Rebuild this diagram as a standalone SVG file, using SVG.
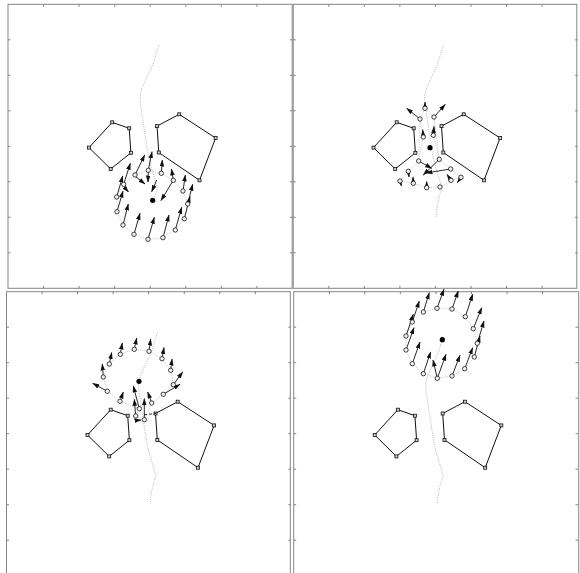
<svg xmlns="http://www.w3.org/2000/svg" xmlns:xlink="http://www.w3.org/1999/xlink" width="580" height="573" viewBox="0 0 580 573">
<style>
.frame{fill:none;stroke:#858585;stroke-width:1}
.tick{fill:none;stroke:#858585;stroke-width:1}
.obs{fill:none;stroke:#111;stroke-width:1}
.vtx{fill:#ccc;stroke:#111;stroke-width:0.8}
.trail{fill:none;stroke:#b4b4b4;stroke-width:1;stroke-dasharray:1 1.3}
.ring{fill:none;stroke:#bdbdbd;stroke-width:0.9;stroke-dasharray:1 1.3}
.arr{fill:none;stroke:#111;stroke-width:0.9;marker-end:url(#ah)}
.rob{fill:#f4f4f4;stroke:#111;stroke-width:0.8}
.ctr{fill:#000}
.dash{fill:none;stroke:#111;stroke-width:0.9;stroke-dasharray:3 2}
</style>
<defs>
<marker id="ah" markerUnits="userSpaceOnUse" markerWidth="7" markerHeight="5" refX="6.5" refY="2.3" orient="auto"><path d="M0,0 L7,2.3 L0,4.6 z" fill="#111"/></marker>
<g id="ticks">
<path class="tick" d="M35.6,0v2.5M71.1,0v2.5M106.7,0v2.5M142.2,0v2.5M177.8,0v2.5M213.3,0v2.5M248.9,0v2.5M35.6,284v-2.5M71.1,284v-2.5M106.7,284v-2.5M142.2,284v-2.5M177.8,284v-2.5M213.3,284v-2.5M248.9,284v-2.5M0,35.5h2.5M0,71h2.5M0,106.5h2.5M0,142h2.5M0,177.5h2.5M0,213h2.5M0,248.5h2.5M284.4,35.5h-2.5M284.4,71h-2.5M284.4,106.5h-2.5M284.4,142h-2.5M284.4,177.5h-2.5M284.4,213h-2.5M284.4,248.5h-2.5"/>
</g>
<g id="obstacles">
<polygon class="obs" points="81,143.3 104.2,118 121.2,124 122.9,148.5 102.7,164.7"/>
<polygon class="obs" points="149,121.8 171.2,110 207.6,133.7 191.5,176 150.8,148.2"/>
<rect class="vtx" x="79.5" y="141.8" width="3" height="3"/>
<rect class="vtx" x="102.7" y="116.5" width="3" height="3"/>
<rect class="vtx" x="119.7" y="122.5" width="3" height="3"/>
<rect class="vtx" x="121.4" y="147" width="3" height="3"/>
<rect class="vtx" x="101.2" y="163.2" width="3" height="3"/>
<rect class="vtx" x="147.5" y="120.3" width="3" height="3"/>
<rect class="vtx" x="169.7" y="108.5" width="3" height="3"/>
<rect class="vtx" x="206.1" y="132.2" width="3" height="3"/>
<rect class="vtx" x="190" y="174.5" width="3" height="3"/>
<rect class="vtx" x="149.3" y="146.7" width="3" height="3"/>
</g>
</defs>

<g id="frames">
<g id="frame1" transform="translate(8,4.3)"><rect class="frame" width="284.2" height="284"/><use xlink:href="#ticks"/></g>
<g id="frame2" transform="translate(293.2,4.3)"><rect class="frame" width="283.6" height="284"/><use xlink:href="#ticks"/></g>
<g id="frame3" transform="translate(6.5,291.7)"><rect class="frame" width="283.8" height="284"/><use xlink:href="#ticks"/></g>
<g id="frame4" transform="translate(293.7,291.7)"><rect class="frame" width="285" height="284"/><use xlink:href="#ticks"/></g>
</g>

<g id="obstacles-all">
<use xlink:href="#obstacles" transform="translate(8,4.3)"/>
<use xlink:href="#obstacles" transform="translate(292.5,4.3)"/>
<use xlink:href="#obstacles" transform="translate(6.5,291.7)"/>
<use xlink:href="#obstacles" transform="translate(293.7,291.7)"/>
</g>

<g id="trails">
<path class="trail" transform="translate(8,4.3)" d="M151,41 L148,50 145,60 141.5,68 138,75 134,84 132,92 132.5,100 133,104 135,117 137,130 139,143 141,155 143.5,164 146,172 149.5,184 147.5,190 145.5,196"/>
<path class="trail" transform="translate(292.5,4.3)" d="M151,41 L148,50 145,60 141.5,68 138,75 134,84 132,92 132.5,100 133,104 135,117 137,130 139,143 141,155 143.5,164 146,172 149.5,184 147.5,190 146,195 144.5,204 143.5,212.5"/>
<path class="trail" transform="translate(6.5,291.7)" d="M151,41 L148,50 145,60 141.5,68 138,75 134,84 132,92 132.5,100 133,104 135,117 137,130 139,143 141,155 143.5,164 146,172 149.5,184 147.5,190 146,195 144.5,204 143.5,212.5"/>
<path class="trail" transform="translate(293.7,291.7)" d="M148.6,48 L145,60 141.5,68 138,75 134,84 132,92 132.5,100 133,104 135,117 137,130 139,143 141,155 143.5,164 146,172 149.5,184 147.5,190 146,195 144.5,204 143.5,212.5"/>
</g>

<g id="formation1">
<polygon class="ring" points="135,175 148.3,170.3 161.3,173.3 173.3,180.3 183,191 187.7,204 184.3,218.7 175.3,230 163,237.7 148,239.3 134,234.3 123,225 117,211.7 116.7,197 123.7,184.3"/>
<path class="arr" d="M135,175L144.7,155"/>
<path class="arr" d="M148.3,170.3L152,151.7"/>
<path class="arr" d="M161.3,173.3L162.3,160"/>
<path class="arr" d="M173.3,180.3L171.5,169"/>
<path class="arr" d="M173.3,180.3L161,200.5"/>
<path class="arr" d="M183,191L185.3,175"/>
<path class="arr" d="M187.7,204L192.7,184.3"/>
<path class="arr" d="M184.3,218.7L190,196.5"/>
<path class="arr" d="M175.3,230L181.7,207.3"/>
<path class="arr" d="M163,237.7L169,215"/>
<path class="arr" d="M148,239.3L154.3,217.3"/>
<path class="arr" d="M134,234.3L140,213.3"/>
<path class="arr" d="M123,225L128.3,204"/>
<path class="arr" d="M117,211.7L123,191"/>
<path class="arr" d="M116.7,197L122.7,176"/>
<path class="arr" d="M123.7,184.3L130.3,163.3"/>
<path class="arr" d="M148.3,172L148,182"/>
<path class="arr" d="M136,177L145,184"/>
<path class="arr" d="M156.7,180L151.7,191.7"/>
<path class="arr" d="M124,187L128.5,192"/>
<circle class="rob" cx="135" cy="175" r="2.2"/><circle class="rob" cx="148.3" cy="170.3" r="2.2"/><circle class="rob" cx="161.3" cy="173.3" r="2.2"/><circle class="rob" cx="173.3" cy="180.3" r="2.2"/><circle class="rob" cx="183" cy="191" r="2.2"/><circle class="rob" cx="187.7" cy="204" r="2.2"/><circle class="rob" cx="184.3" cy="218.7" r="2.2"/><circle class="rob" cx="175.3" cy="230" r="2.2"/><circle class="rob" cx="163" cy="237.7" r="2.2"/><circle class="rob" cx="148" cy="239.3" r="2.2"/><circle class="rob" cx="134" cy="234.3" r="2.2"/><circle class="rob" cx="123" cy="225" r="2.2"/><circle class="rob" cx="117" cy="211.7" r="2.2"/><circle class="rob" cx="116.7" cy="197" r="2.2"/><circle class="rob" cx="123.7" cy="184.3" r="2.2"/>
<circle class="ctr" cx="152.7" cy="200.3" r="2.6"/>
</g>

<g id="formation2">
<polygon class="ring" points="425,108.3 434,117 433.3,135.3 439.3,159.3 450.7,169 461,177.3 451,180.3 440,187 426.7,187.7 413.3,183.3 400,181 408.3,171.3 418.7,161 423.3,137 420,119"/>
<path class="ring" d="M420,119L418.7,161M434,117L439.3,159.3"/>
<path class="arr" d="M425,108.3L425,102.2"/>
<path class="arr" d="M420,119L406.7,108.3"/>
<path class="arr" d="M434,117L445.3,104.3"/>
<path class="arr" d="M423.3,137L422.7,129.8"/>
<path class="arr" d="M433.3,135.3L434,126.5"/>
<path class="arr" d="M418.7,161L431.7,168.3"/>
<path class="arr" d="M439.3,159.3L423.3,175"/>
<path class="arr" d="M450.7,169L426,173"/>
<path class="arr" d="M408.3,171.3L409,177"/>
<path class="arr" d="M400,181L401.5,186"/>
<path class="arr" d="M413.3,183.3L413,177"/>
<path class="arr" d="M426.7,187.7L426.7,181.5"/>
<path class="arr" d="M451,180.3L447,174.5"/>
<path class="arr" d="M461,177.3L457.5,182.5"/>
<circle class="rob" cx="425" cy="108.3" r="2.2"/><circle class="rob" cx="434" cy="117" r="2.2"/><circle class="rob" cx="433.3" cy="135.3" r="2.2"/><circle class="rob" cx="439.3" cy="159.3" r="2.2"/><circle class="rob" cx="450.7" cy="169" r="2.2"/><circle class="rob" cx="461" cy="177.3" r="2.2"/><circle class="rob" cx="451" cy="180.3" r="2.2"/><circle class="rob" cx="440" cy="187" r="2.2"/><circle class="rob" cx="426.7" cy="187.7" r="2.2"/><circle class="rob" cx="413.3" cy="183.3" r="2.2"/><circle class="rob" cx="400" cy="181" r="2.2"/><circle class="rob" cx="408.3" cy="171.3" r="2.2"/><circle class="rob" cx="418.7" cy="161" r="2.2"/><circle class="rob" cx="423.3" cy="137" r="2.2"/><circle class="rob" cx="420" cy="119" r="2.2"/>
<circle class="ctr" cx="430" cy="147.7" r="2.6"/>
</g>

<g id="formation3">
<polygon class="ring" points="107.3,391.3 103.3,377 109.3,364 120.3,354.3 134.3,349.3 149,351.3 162,358.7 170.7,370.3 173.3,384.7 163.3,394.3 151.7,403 144.3,419.7 135.7,416 139.3,408.7 120,401.3"/>
<path class="arr" d="M103.3,377L102.3,364"/>
<path class="arr" d="M109.3,364L111.7,352.5"/>
<path class="arr" d="M120.3,354.3L122.3,343"/>
<path class="arr" d="M134.3,349.3L136.7,338"/>
<path class="arr" d="M149,351.3L150.7,339"/>
<path class="arr" d="M162,358.7L164,347.5"/>
<path class="arr" d="M170.7,370.3L172,359"/>
<path class="arr" d="M173.3,384.7L182.7,372"/>
<path class="arr" d="M163.3,394.3L180,384.3"/>
<path class="arr" d="M151.7,403L147.7,392"/>
<path class="arr" d="M107.3,391.3L92.7,383.3"/>
<path class="arr" d="M120,401.3L123.3,392"/>
<path class="arr" d="M139.3,408.7L133.3,386"/>
<path class="arr" d="M135.7,416L134.3,399.3"/>
<path class="arr" d="M144.3,419.7L144.3,398.7"/>
<path class="dash" d="M144,414.8L156,413.4"/>
<path class="arr" d="M136,420.5L141,420"/>
<circle class="rob" cx="107.3" cy="391.3" r="2.2"/><circle class="rob" cx="103.3" cy="377" r="2.2"/><circle class="rob" cx="109.3" cy="364" r="2.2"/><circle class="rob" cx="120.3" cy="354.3" r="2.2"/><circle class="rob" cx="134.3" cy="349.3" r="2.2"/><circle class="rob" cx="149" cy="351.3" r="2.2"/><circle class="rob" cx="162" cy="358.7" r="2.2"/><circle class="rob" cx="170.7" cy="370.3" r="2.2"/><circle class="rob" cx="173.3" cy="384.7" r="2.2"/><circle class="rob" cx="163.3" cy="394.3" r="2.2"/><circle class="rob" cx="151.7" cy="403" r="2.2"/><circle class="rob" cx="144.3" cy="419.7" r="2.2"/><circle class="rob" cx="135.7" cy="416" r="2.2"/><circle class="rob" cx="139.3" cy="408.7" r="2.2"/><circle class="rob" cx="120" cy="401.3" r="2.2"/>
<circle class="ctr" cx="139" cy="381.3" r="2.6"/>
</g>

<g id="formation4">
<polygon class="ring" points="423.3,312 437,308.3 452,309 465.3,316.7 473.3,328.7 477.3,343.3 474.3,357 464.7,368.7 452,376 437.3,378.3 423.3,373.7 412.3,363.7 406,350 406,336 412.3,322"/>
<path class="arr" d="M412.3,322L419.3,301"/>
<path class="arr" d="M423.3,312L429.3,292.7"/>
<path class="arr" d="M437,308.3L444,289.3"/>
<path class="arr" d="M452,309L458.3,291"/>
<path class="arr" d="M465.3,316.7L472.7,294.3"/>
<path class="arr" d="M473.3,328.7L481.7,307.7"/>
<path class="arr" d="M477.3,343.3L484,321"/>
<path class="arr" d="M474.3,357L480,336"/>
<path class="arr" d="M464.7,368.7L472.7,347.7"/>
<path class="arr" d="M452,376L460,355.3"/>
<path class="arr" d="M437.3,378.3L446,354.3"/>
<path class="arr" d="M437.3,378.3L433,360"/>
<path class="arr" d="M423.3,373.7L430.7,352"/>
<path class="arr" d="M412.3,363.7L420,342"/>
<path class="arr" d="M406,350L414,327.7"/>
<path class="arr" d="M406,336L413.3,314.3"/>
<circle class="rob" cx="423.3" cy="312" r="2.2"/><circle class="rob" cx="437" cy="308.3" r="2.2"/><circle class="rob" cx="452" cy="309" r="2.2"/><circle class="rob" cx="465.3" cy="316.7" r="2.2"/><circle class="rob" cx="473.3" cy="328.7" r="2.2"/><circle class="rob" cx="477.3" cy="343.3" r="2.2"/><circle class="rob" cx="474.3" cy="357" r="2.2"/><circle class="rob" cx="464.7" cy="368.7" r="2.2"/><circle class="rob" cx="452" cy="376" r="2.2"/><circle class="rob" cx="437.3" cy="378.3" r="2.2"/><circle class="rob" cx="423.3" cy="373.7" r="2.2"/><circle class="rob" cx="412.3" cy="363.7" r="2.2"/><circle class="rob" cx="406" cy="350" r="2.2"/><circle class="rob" cx="406" cy="336" r="2.2"/><circle class="rob" cx="412.3" cy="322" r="2.2"/>
<circle class="ctr" cx="442.3" cy="339.7" r="2.6"/>
</g>
</svg>
